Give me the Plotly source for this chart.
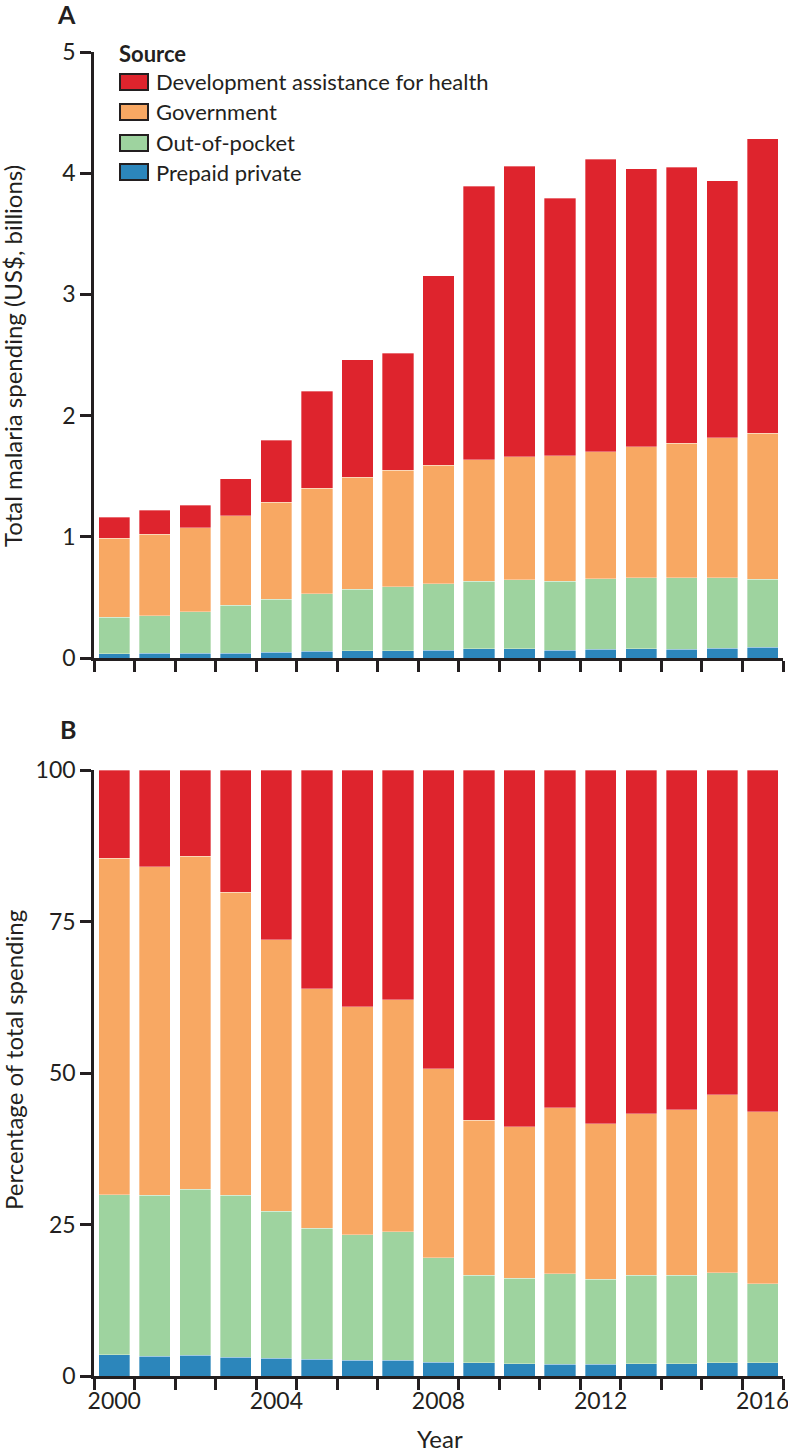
import plotly.graph_objects as go

# ---------------- data ----------------
years = list(range(2000, 2017))
sources = ["Development assistance for health", "Government", "Out-of-pocket", "Prepaid private"]
colors = ["#DE242D", "#F8A863", "#9ED39F", "#2C86BB"]

# Panel A: US$ billions by source
prepaid_a = [0.035, 0.038, 0.038, 0.040, 0.046, 0.054, 0.058, 0.058, 0.064, 0.076, 0.076, 0.066, 0.072, 0.076, 0.074, 0.080, 0.090]
oop_a = [0.301, 0.311, 0.342, 0.395, 0.438, 0.477, 0.509, 0.531, 0.547, 0.559, 0.570, 0.569, 0.580, 0.587, 0.589, 0.583, 0.559]
gov_a = [0.651, 0.671, 0.693, 0.737, 0.803, 0.869, 0.924, 0.962, 0.981, 0.999, 1.015, 1.034, 1.050, 1.080, 1.108, 1.155, 1.207]
dah_a = [0.176, 0.201, 0.187, 0.305, 0.509, 0.803, 0.969, 0.963, 1.562, 2.260, 2.398, 2.124, 2.413, 2.292, 2.278, 2.118, 2.429]

# Panel B: percentage of total spending by source
prepaid_b = [3.5, 3.3, 3.4, 3.1, 2.9, 2.8, 2.6, 2.6, 2.3, 2.2, 2.0, 1.9, 1.9, 2.0, 2.0, 2.2, 2.2]
oop_b = [26.4, 26.5, 27.4, 26.7, 24.3, 21.6, 20.7, 21.2, 17.2, 14.4, 14.1, 15.0, 14.1, 14.6, 14.6, 14.8, 13.0]
gov_b = [55.5, 54.2, 55.0, 50.0, 44.8, 39.5, 37.6, 38.3, 31.2, 25.6, 25.0, 27.4, 25.6, 26.7, 27.3, 29.4, 28.4]
dah_b = [14.6, 16.0, 14.2, 20.2, 28.0, 36.1, 39.1, 37.9, 49.3, 57.8, 58.9, 55.7, 58.4, 56.7, 56.1, 53.6, 56.4]

yticks_a = [0, 1, 2, 3, 4, 5]
yticks_b = [0, 25, 50, 75, 100]
xlabel_years = [2000, 2004, 2008, 2012, 2016]

# ---------------- geometry helpers ----------------
W, H = 788, 1450
ML, MR, MT, MB = 94, 5, 52, 74
PW, PH = W - ML - MR, H - MT - MB
def px(x):
    return (x - ML) / PW
def py(y):
    return (H - MB - y) / PH

INK = "#231f20"
FONT = "Lato"
FS_TICK = 23
FS_LEG = 22
FS_TITLE = 24

fig = go.Figure()

series_a = [prepaid_a, oop_a, gov_a, dah_a]
series_b = [prepaid_b, oop_b, gov_b, dah_b]
order = [3, 2, 1, 0]  # bottom-to-top: prepaid, oop, gov, dah
for k, idx in enumerate(order):
    fig.add_trace(go.Bar(x=years, y=series_a[k], name=sources[idx], marker_color=colors[idx],
                         marker_line=dict(color="rgba(255,255,255,0.55)", width=0.6),
                         xaxis="x", yaxis="y", showlegend=False))
    fig.add_trace(go.Bar(x=years, y=series_b[k], name=sources[idx], marker_color=colors[idx],
                         marker_line=dict(color="rgba(255,255,255,0.55)", width=0.6),
                         xaxis="x2", yaxis="y2", showlegend=False))

boundaries = [y - 0.5 for y in years] + [years[-1] + 0.5]

def xaxis_common(show_labels):
    return dict(
        range=[years[0] - 0.5, years[-1] + 0.5], domain=[0, 1], automargin=False,
        showline=True, linecolor=INK, linewidth=2.5, showgrid=False, zeroline=False,
        tickmode="array", tickvals=xlabel_years, ticktext=[str(v) for v in xlabel_years],
        ticks="outside", ticklen=3, tickwidth=2.5, tickcolor="rgba(0,0,0,0)",
        showticklabels=show_labels, ticklabeloverflow="allow",
        tickfont=dict(family=FONT, size=FS_TICK, color=INK),
        minor=dict(tickmode="array", tickvals=boundaries, ticks="outside", ticklen=11,
                   tickwidth=2.5, tickcolor=INK, showgrid=False),
    )

def yaxis_common(rng, vals, dom):
    return dict(
        range=rng, domain=dom, automargin=False, showline=True, linecolor=INK, linewidth=2.5,
        showgrid=False, zeroline=False, tickmode="array", tickvals=vals,
        ticks="outside", ticklen=11, tickwidth=2.5, tickcolor=INK,
        tickfont=dict(family=FONT, size=FS_TICK, color=INK),
    )

fig.update_layout(
    width=W, height=H, margin=dict(l=ML, r=MR, t=MT, b=MB),
    paper_bgcolor="white", plot_bgcolor="white",
    barmode="stack", bargap=0.23,
    font=dict(family=FONT, size=FS_LEG, color=INK),
    xaxis=dict(anchor="y", **xaxis_common(False)),
    yaxis=dict(anchor="x", **yaxis_common([0, 5], yticks_a, [py(658), 1])),
    xaxis2=dict(anchor="y2", **xaxis_common(True)),
    yaxis2=dict(anchor="x2", **yaxis_common([0, 100], yticks_b, [0, py(770)])),
)

def A(text, x, y, size, xanchor="center", angle=0):
    return dict(text=text, x=px(x), y=py(y), xref="paper", yref="paper",
                xanchor=xanchor, yanchor="middle", textangle=angle, showarrow=False,
                font=dict(family=FONT, size=size, color=INK))

ann = []
ann.append(A("<b>A</b>", 66, 14, 25))
ann.append(A("<b>B</b>", 68, 729, 25))
ann.append(A("Total malaria spending (US$, billions)", 13, 356, FS_TITLE, angle=-90))
ann.append(A("Percentage of total spending", 13, 1060, FS_TITLE, angle=-90))
ann.append(A("Year", 440, 1438, FS_TITLE))
ann.append(A("<b>Source</b>", 117, 53, FS_LEG, xanchor="left"))
shapes = []
rows = [82, 112, 143, 172]
for i, yc in enumerate(rows):
    shapes.append(dict(type="rect", xref="paper", yref="paper",
                       x0=px(120), x1=px(148), y0=py(yc + 8), y1=py(yc - 8),
                       fillcolor=colors[i], line=dict(color=INK, width=2)))
    ann.append(A(sources[i], 154, yc, FS_LEG, xanchor="left"))

fig.update_layout(annotations=ann, shapes=shapes)
fig.write_html("out.html", config={"displayModeBar": False},
               post_script="document.body.style.margin='0px';")
